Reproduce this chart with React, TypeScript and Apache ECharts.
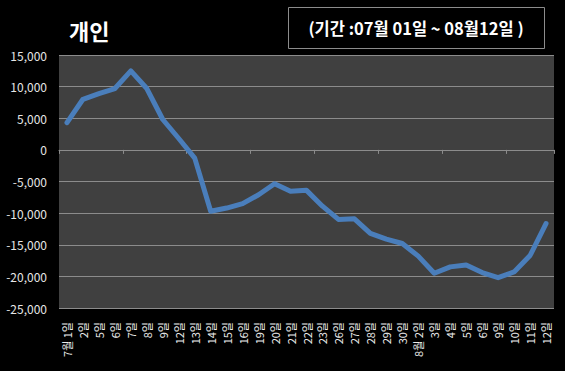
import React, { useEffect, useRef } from "react";
import * as echarts from "echarts";

const categories = [
  "7월 1일", "2일", "5일", "6일", "7일", "8일", "9일", "12일", "13일", "14일", "15일",
  "16일", "19일", "20일", "21일", "22일", "23일", "26일", "27일", "28일", "29일", "30일",
  "8월 2일", "3일", "4일", "5일", "6일", "9일", "10일", "11일", "12일",
];

const values = [
  4300, 8000, 8900, 9700, 12500, 9700, 4800, 1800, -1300, -9700, -9200,
  -8500, -7100, -5350, -6560, -6400, -8900, -11000, -10900, -13200, -14100, -14800,
  -16800, -19500, -18500, -18200, -19400, -20200, -19300, -16700, -11650,
];

const yMin = -25000;
const yMax = 15000;
const yStep = 5000;

const title = "개인";
const period = "(기간 :07월 01일 ~ 08월12일 )";

const FONT = "'Noto Sans CJK KR', 'Noto Sans', sans-serif";

export default function App() {
  const ref = useRef<HTMLDivElement>(null);
  useEffect(() => {
    document.body.style.margin = "0";
    document.body.style.background = "#000";
    if (!ref.current) return;
    const chart = echarts.init(ref.current, undefined, { renderer: "svg" });
    chart.setOption({
      animation: false,
      backgroundColor: "#000000",
      graphic: [
        {
          type: "text",
          left: 69,
          top: 19,
          style: { text: title, fill: "#ffffff", font: `bold 22px ${FONT}` },
        },
        {
          type: "rect",
          shape: { x: 288.5, y: 7.5, width: 256, height: 41 },
          style: { fill: "transparent", stroke: "#8c8c8c", lineWidth: 1 },
        },
        {
          type: "text",
          x: 416,
          y: 28,
          style: {
            text: period,
            fill: "#ffffff",
            font: `bold 16.5px ${FONT}`,
            align: "center",
            verticalAlign: "middle",
          },
        },
      ],
      grid: {
        left: 59,
        right: 11,
        top: 55,
        bottom: 63,
        show: true,
        backgroundColor: "#404040",
        borderWidth: 0,
      },
      xAxis: [
        {
          type: "category",
          data: categories,
          boundaryGap: true,
          axisLine: { show: false, onZero: false },
          axisTick: { show: false },
          axisLabel: {
            rotate: 90,
            interval: 0,
            color: "#ececec",
            fontSize: 11,
            fontFamily: FONT,
            margin: 14,
          },
        },
        {
          type: "category",
          data: categories,
          boundaryGap: true,
          position: "bottom",
          axisLine: { show: true, onZero: true, lineStyle: { color: "#8c8c8c", width: 1 } },
          axisTick: { show: true, length: 4, lineStyle: { color: "#8c8c8c" } },
          axisLabel: { show: false },
        },
      ],
      yAxis: {
        type: "value",
        min: yMin,
        max: yMax,
        interval: yStep,
        axisLine: { show: false },
        axisTick: { show: false },
        splitLine: { show: true, lineStyle: { color: "#8c8c8c", width: 1 } },
        axisLabel: {
          color: "#e6e6e6",
          fontSize: 12,
          fontFamily: FONT,
          margin: 12,
          formatter: (v: number) => v.toLocaleString("en-US"),
        },
      },
      series: [
        {
          type: "line",
          data: values,
          xAxisIndex: 0,
          symbol: "none",
          lineStyle: { color: "#4a7ebb", width: 5, join: "round", cap: "round" },
        },
      ],
    });
    return () => chart.dispose();
  }, []);
  return <div ref={ref} style={{ width: 565, height: 371 }} />;
}
